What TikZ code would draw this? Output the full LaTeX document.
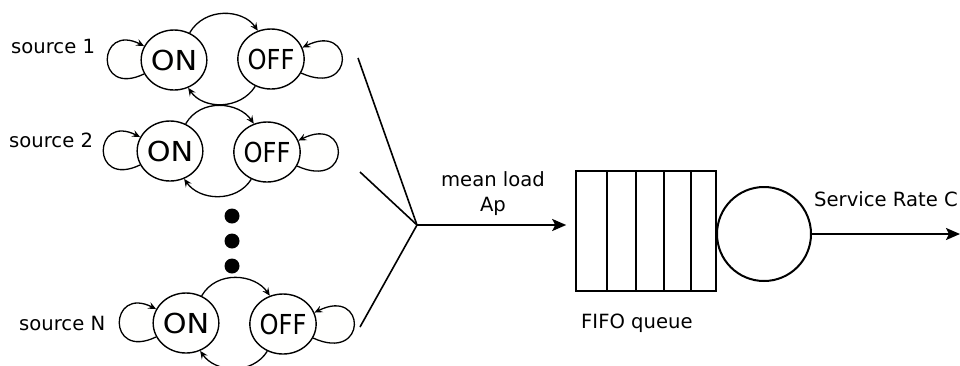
\documentclass[tikz,border=0pt]{standalone}
\usepackage{fontspec}
\usepackage{graphicx}
\setmainfont{DejaVu Sans}
\usetikzlibrary{shapes.geometric,arrows.meta,backgrounds}
\definecolor{statefill}{RGB}{255,255,254}
\tikzset{
  state/.style={ellipse, draw, line width=1.4pt, fill=statefill, minimum width=64pt, minimum height=60pt, inner sep=0pt, font=\fontsize{27.5}{27.5}\selectfont},
  trans/.style={line width=1.3pt, -{Stealth[length=8pt,width=7pt,inset=3pt]}},
  selfloop/.style={trans, fill=statefill},
  lbl/.style={inner sep=0pt, font=\fontsize{19.6}{25}\selectfont},
  feed/.style={line width=1.6pt},
  bigarrow/.style={line width=2pt, -{Stealth[length=14pt,width=12pt,inset=3pt]}},
  dotnode/.style={circle, fill=black, inner sep=0pt, minimum size=15pt}
}
\newcommand{\mkpair}[5]{%
  \node[state] (on#1) at (#2,#3) {\scalebox{1.1}[1]{ON}};
  \node[state] (off#1) at (#4,#5) {\scalebox{0.88}[1]{OFF}};
  \draw[trans] (on#1.60) .. controls +(15,-26) and +(-15,-22) .. (off#1.115);
  \draw[trans] (off#1.240) .. controls +(-15,24) and +(15,22) .. (on#1.297);
  \begin{scope}[on background layer]
    \draw[selfloop] (on#1.205) .. controls +(-50,24) and +(-47,-24) .. (on#1.155);
    \draw[selfloop] (off#1.-25) .. controls +(55,25) and +(52,-26) .. (off#1.20);
  \end{scope}
}
\begin{document}
\begin{tikzpicture}[x=1pt,y=-1pt]
\begin{scope}[on background layer]
  \fill[white] (0,0) rectangle (960,365);
\end{scope}
\useasboundingbox (0,0) rectangle (960,365);

% sources
\mkpair{1}{174}{60}{271}{59}
\mkpair{2}{170}{151}{267}{152}
\mkpair{N}{186}{323}{283}{324}

\node[lbl, anchor=base west] (src1) at (11,53) {source 1};
\node[lbl, anchor=base west] (src2) at (9,147) {source 2};
\node[lbl, anchor=base west] (srcN) at (19,330) {source N};

% dots
\node[dotnode] (dot1) at (232,216) {};
\node[dotnode] (dot2) at (232,241) {};
\node[dotnode] (dot3) at (232,266) {};

% aggregation
\coordinate (s1out) at (358,58);
\coordinate (s2out) at (360,172);
\coordinate (sNout) at (360,327);
\coordinate (j) at (417,225);
\draw[feed] (s1out) -- (j);
\draw[feed] (s2out) -- (j);
\draw[feed] (sNout) -- (j);

% queue
\node[draw, line width=1.6pt, minimum width=140pt, minimum height=120pt, inner sep=0pt] (queue) at (646,231) {};
\foreach \x in {607,636,664,691}
  \draw[line width=1.5pt] (\x,0 |- queue.north) -- (\x,0 |- queue.south);

\draw[bigarrow, shorten >=9pt] (j) -- (j -| queue.west);
\node[lbl, align=center] (load) at (493,194) {mean load\\Ap};

% server
\node[circle, draw, line width=2pt, minimum size=94pt, inner sep=0pt] (server) at (764,234) {};
\coordinate (out) at (960,234);
\draw[bigarrow, line width=2.2pt] (server) -- (out);

\node[lbl, anchor=base west] (rate) at (814,206) {Service Rate C};
\node[lbl, anchor=base west] (fifo) at (581,328) {FIFO queue};
\end{tikzpicture}
\end{document}
